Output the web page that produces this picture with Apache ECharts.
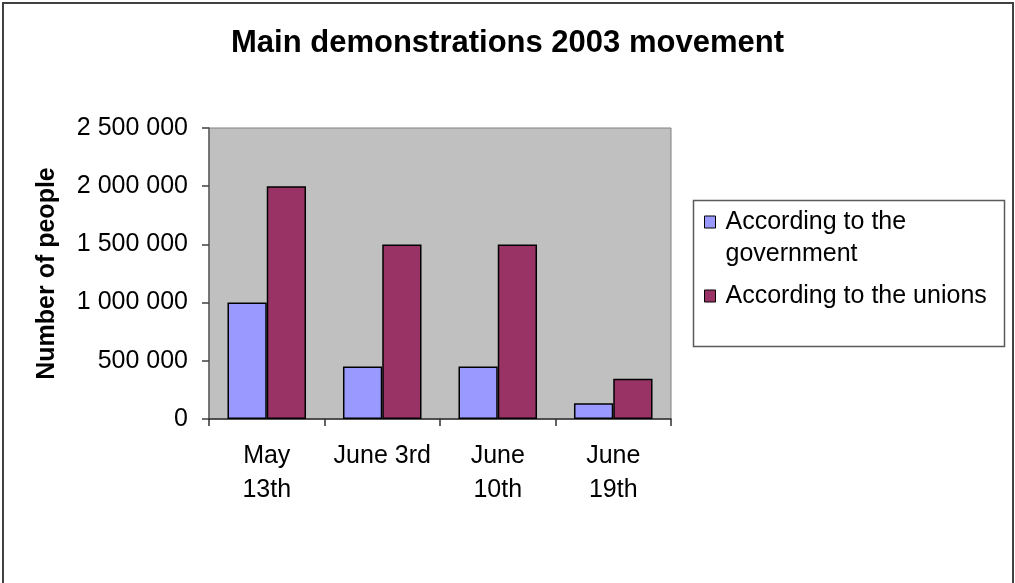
<!DOCTYPE html>
<html>
<head>
<meta charset="utf-8">
<script src="https://cdn.jsdelivr.net/npm/echarts@6/dist/echarts.min.js"></script>
<style>
  html, body { margin: 0; padding: 0; background: #fff; }
  #chart { width: 1015px; height: 583px; }
</style>
</head>
<body>
<div id="chart"></div>
<script>
const titleText = 'Main demonstrations 2003 movement';
const categories = ['May\n13th', 'June 3rd', 'June\n10th', 'June\n19th'];
const seriesNames = ['According to the government', 'According to the unions'];
const governmentValues = [1000000, 450000, 450000, 135000];
const unionValues = [2000000, 1500000, 1500000, 345000];
const yAxisName = 'Number of people';
const yMin = 0, yMax = 2500000, yStep = 500000;

const FONT = "'Liberation Sans', Arial, sans-serif";
const chart = echarts.init(document.getElementById('chart'), null, { renderer: 'canvas' });

function spaced(v) {
  return String(v).replace(/\B(?=(\d{3})+(?!\d))/g, ' ');
}

chart.setOption({
  backgroundColor: '#ffffff',
  animation: false,
  textStyle: { fontFamily: FONT, color: '#000' },
  title: {
    text: titleText,
    left: 'center',
    top: 28,
    padding: 0,
    textStyle: { fontFamily: FONT, fontSize: 31, fontWeight: 'bold', color: '#000', lineHeight: 31 }
  },
  graphic: [
    {
      type: 'rect', z: -10, silent: true,
      shape: { x: 3, y: 3, width: 1010, height: 620 },
      style: { fill: '#fff', stroke: '#404040', lineWidth: 2 }
    },
    {
      type: 'rect', z: 0, silent: true,
      shape: { x: 693.5, y: 200.5, width: 311, height: 146 },
      style: { fill: '#fff', stroke: '#5a5a5a', lineWidth: 1.5 }
    }
  ],
  legend: {
    orient: 'vertical',
    left: 704,
    top: 174,
    padding: 0,
    itemGap: 10,
    itemWidth: 11,
    itemHeight: 12,
    icon: 'rect',
    z: 10,
    itemStyle: { borderColor: '#000', borderWidth: 1 },
    formatter: function (name) {
      // a blank first line keeps the marker level with the first text line of a wrapped entry
      return name === seriesNames[0] ? ' \n' + name : name;
    },
    textStyle: { fontFamily: FONT, fontSize: 25, lineHeight: 32, color: '#000', width: 270, overflow: 'break', padding: [0, 0, 0, 5] },
    data: seriesNames
  },
  grid: {
    left: 209, top: 128, width: 462, height: 291,
    show: true,
    backgroundColor: '#c0c0c0',
    borderColor: '#808080',
    borderWidth: 1,
    containLabel: false
  },
  xAxis: {
    type: 'category',
    data: categories,
    axisLine: { show: true, lineStyle: { color: '#303030', width: 1.5 } },
    axisTick: { show: true, length: 7, inside: false, lineStyle: { color: '#303030', width: 1.5 } },
    axisLabel: { interval: 0, margin: 20, fontFamily: FONT, fontSize: 25, lineHeight: 34, color: '#000' },
    splitLine: { show: false }
  },
  yAxis: {
    type: 'value',
    min: yMin, max: yMax, interval: yStep,
    name: yAxisName,
    nameLocation: 'middle',
    nameRotate: 90,
    nameGap: 149,
    nameTextStyle: { fontFamily: FONT, fontSize: 25, fontWeight: 'bold', color: '#000' },
    axisLine: { show: true, lineStyle: { color: '#606060', width: 1.5 } },
    axisTick: { show: true, length: 7, inside: false, lineStyle: { color: '#404040', width: 1.5 } },
    axisLabel: { margin: 21, fontFamily: FONT, fontSize: 25, color: '#000', formatter: spaced },
    splitLine: { show: false }
  },
  series: [
    {
      name: seriesNames[0],
      type: 'bar',
      data: governmentValues,
      barGap: '0%',
      barCategoryGap: '32%',
      itemStyle: { color: '#9999ff', borderColor: '#000', borderWidth: 1.5 }
    },
    {
      name: seriesNames[1],
      type: 'bar',
      data: unionValues,
      barGap: '0%',
      barCategoryGap: '32%',
      itemStyle: { color: '#993366', borderColor: '#000', borderWidth: 1.5 }
    }
  ]
});
</script>
</body>
</html>
